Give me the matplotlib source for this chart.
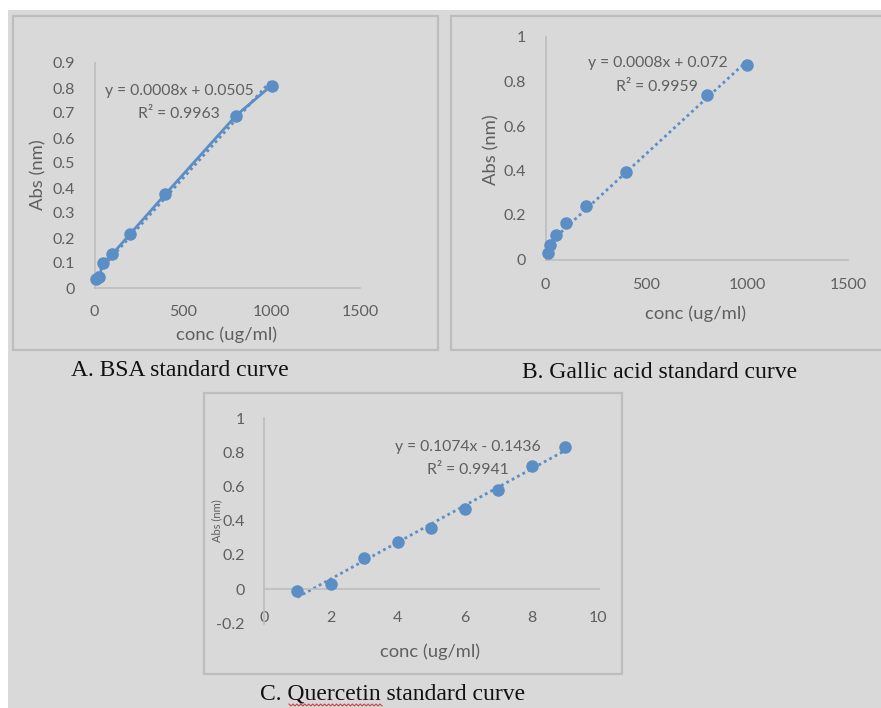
import matplotlib
matplotlib.use('Agg')
import matplotlib.pyplot as plt
from matplotlib.patches import Rectangle
from matplotlib.ticker import MultipleLocator, FuncFormatter
import numpy as np

W, H = 881, 708

# BSA standard curve
bsa_conc = [10, 25, 50, 100, 200, 400, 800, 1000]
bsa_abs = [0.035, 0.045, 0.10, 0.135, 0.215, 0.375, 0.69, 0.81]
bsa_eq = 'y = 0.0008x + 0.0505'
bsa_r2 = 'R² = 0.9963'

# Gallic acid standard curve
ga_conc = [10, 20, 50, 100, 200, 400, 800, 1000]
ga_abs = [0.03, 0.065, 0.11, 0.165, 0.24, 0.395, 0.74, 0.875]
ga_eq = 'y = 0.0008x + 0.072'
ga_r2 = 'R² = 0.9959'

# Quercetin standard curve
q_conc = [1, 2, 3, 4, 5, 6, 7, 8, 9]
q_abs = [-0.01, 0.03, 0.18, 0.275, 0.36, 0.47, 0.58, 0.72, 0.83]
q_eq = 'y = 0.1074x - 0.1436'
q_r2 = 'R² = 0.9941'

captions = ['A. BSA standard curve', 'B. Gallic acid standard curve',
            'C. Quercetin standard curve']

bg = '#d9d9d9'
edge = '#bdbdbd'
blue = '#5b8ec4'
txt = '#5f5f5f'
font = 'Lato'

fig = plt.figure(figsize=(W / 100, H / 100), dpi=100)
fig.patch.set_facecolor('white')


def fx(x):
    return x / W


def fy(y):
    return 1 - y / H


def frame(x0, y0, x1, y1, **kw):
    fig.patches.append(Rectangle((fx(x0), fy(y1)), fx(x1) - fx(x0), fy(y0) - fy(y1),
                                 transform=fig.transFigure, zorder=-5, **kw))


# page background and the three chart frames
frame(8, 10, W, H, facecolor=bg, edgecolor='none')
frame(13, 16, 438, 350, facecolor=bg, edgecolor=edge, lw=1.6)
frame(451, 16, W + 5, 350, facecolor=bg, edgecolor=edge, lw=1.6)
frame(204, 393, 622, 674, facecolor=bg, edgecolor=edge, lw=1.6)


def make_ax(x0, x1, ytop, ybot):
    ax = fig.add_axes([fx(x0), fy(ybot), fx(x1) - fx(x0), fy(ytop) - fy(ybot)])
    ax.set_facecolor('none')
    for s in ['top', 'right']:
        ax.spines[s].set_visible(False)
    for s in ['left', 'bottom']:
        ax.spines[s].set_color(edge)
        ax.spines[s].set_linewidth(1.2)
    ax.tick_params(length=0, labelsize=11.5, labelcolor=txt, pad=9)
    ax.yaxis.set_major_formatter(FuncFormatter(lambda v, p: '%g' % round(v, 2)))
    return ax


def draw(ax, x, y, connect=False):
    x = np.array(x)
    y = np.array(y)
    if connect:
        ax.plot(x, y, color=blue, lw=2.0, zorder=2)
    k, b = np.polyfit(x, y, 1)
    xs = np.array([x.min(), x.max()])
    ax.plot(xs, k * xs + b, color=blue, lw=2.0, linestyle=(0, (1, 1.2)), zorder=2)
    ax.plot(x, y, 'o', color=blue, ms=8, zorder=3, clip_on=False)


# A
axA = make_ax(94.5, 360, 63, 288)
draw(axA, bsa_conc, bsa_abs, connect=True)
axA.set_xlim(0, 1500)
axA.set_ylim(0, 0.9)
axA.xaxis.set_major_locator(MultipleLocator(500))
axA.yaxis.set_major_locator(MultipleLocator(0.1))
axA.tick_params(axis='x', pad=12)
axA.tick_params(axis='y', pad=14)

# B
axB = make_ax(545.5, 848, 37, 259.5)
draw(axB, ga_conc, ga_abs)
axB.set_xlim(0, 1500)
axB.set_ylim(0, 1)
axB.xaxis.set_major_locator(MultipleLocator(500))
axB.yaxis.set_major_locator(MultipleLocator(0.2))
axB.tick_params(axis='x', pad=13)
axB.tick_params(axis='y', pad=14)

# C
axC = make_ax(264, 598.5, 418, 623.5)
draw(axC, q_conc, q_abs)
axC.set_xlim(0, 10)
axC.set_ylim(-0.2, 1)
axC.spines['bottom'].set_position(('data', 0))
axC.xaxis.set_major_locator(MultipleLocator(2))
axC.yaxis.set_major_locator(MultipleLocator(0.2))
axC.tick_params(axis='x', pad=16)
axC.tick_params(axis='y', pad=14)

for ax in [axA, axB, axC]:
    for lab in ax.get_xticklabels() + ax.get_yticklabels():
        lab.set_fontfamily(font)

tk = dict(family=font, color=txt, ha='center', va='center')

# axis titles
fig.text(fx(38), fy(175), 'Abs (nm)', rotation=90, fontsize=13.3, **tk)
fig.text(fx(227), fy(335), 'conc (ug/ml)', fontsize=13.3, **tk)
fig.text(fx(491), fy(150), 'Abs (nm)', rotation=90, fontsize=13.3, **tk)
fig.text(fx(696), fy(314), 'conc (ug/ml)', fontsize=13.3, **tk)
fig.text(fx(217), fy(521), 'Abs (nm)', rotation=90, fontsize=8, **tk)
fig.text(fx(430), fy(652), 'conc (ug/ml)', fontsize=13.2, **tk)

# trendline equations
fig.text(fx(179), fy(91), bsa_eq, fontsize=11.3, **tk)
fig.text(fx(179), fy(114), bsa_r2, fontsize=11.3, **tk)
fig.text(fx(658), fy(63), ga_eq, fontsize=11.3, **tk)
fig.text(fx(657), fy(87), ga_r2, fontsize=11.3, **tk)
fig.text(fx(468), fy(447), q_eq, fontsize=11.3, **tk)
fig.text(fx(468), fy(470), q_r2, fontsize=11.3, **tk)

# captions
cap = dict(family='Liberation Serif', color='#111111', ha='center', va='center', fontsize=17)
fig.text(fx(180), fy(370), captions[0], **cap)
fig.text(fx(660), fy(372), captions[1], **cap)
fig.text(fx(393), fy(694), captions[2], **cap)

# spell-check squiggle under "Quercetin"
sx = np.linspace(289, 382, 48)
sy = 705 + np.where(np.arange(48) % 2 == 0, -1.0, 1.0)
fig.lines.append(plt.Line2D(fx(sx), fy(sy), transform=fig.transFigure,
                            color='#d04040', lw=0.8))

fig.savefig('out.png', dpi=100, facecolor=fig.get_facecolor())
